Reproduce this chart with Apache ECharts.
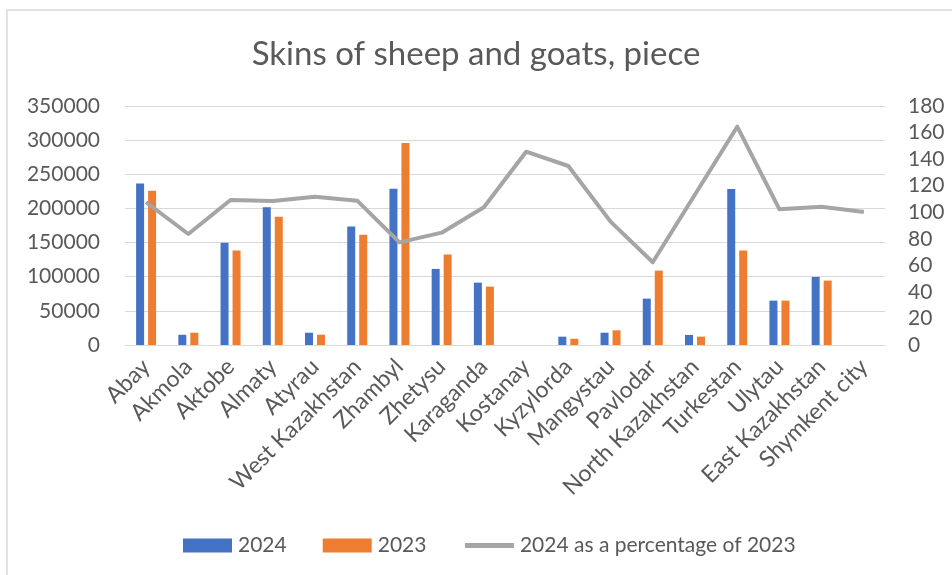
<!DOCTYPE html>
<html>
<head>
<meta charset="utf-8">
<script src="https://cdn.jsdelivr.net/npm/echarts@6/dist/echarts.min.js"></script>
<style>
  html, body { margin: 0; padding: 0; background: #fff; }
  #chart { width: 952px; height: 575px; }
</style>
</head>
<body>
<div id="chart"></div>
<script>
// Regions of Kazakhstan
const regions = ['Abay', 'Akmola', 'Aktobe', 'Almaty', 'Atyrau', 'West Kazakhstan', 'Zhambyl',
  'Zhetysu', 'Karaganda', 'Kostanay', 'Kyzylorda', 'Mangystau', 'Pavlodar', 'North Kazakhstan',
  'Turkestan', 'Ulytau', 'East Kazakhstan', 'Shymkent city'];

// Skins of sheep and goats, pieces
const skins2024 = [236500, 15000, 149600, 201900, 18000, 173500, 228700, 111400, 91300, null,
  12200, 18000, 67900, 14700, 228300, 65000, 99700, null];
const skins2023 = [225800, 18000, 138300, 187700, 15100, 161300, 295700, 132400, 85500, null,
  9200, 21500, 108900, 12200, 138300, 65000, 94300, null];

// 2024 as a percentage of 2023
const percent = [107.5, 83.6, 109.2, 108.4, 111.7, 108.7, 77.3, 84.6, 103.7, 145.6,
  134.8, 92.9, 62.3, 113.3, 164.4, 102.2, 104.1, 100.2];

const textColor = '#595959';
const font = 'Lato';

const chart = echarts.init(document.getElementById('chart'), null, { renderer: 'canvas' });
chart.setOption({
  backgroundColor: '#ffffff',
  animation: false,
  textStyle: { fontFamily: font, color: textColor },
  title: {
    text: 'Skins of sheep and goats, piece',
    left: 'center',
    top: 33,
    textStyle: { fontFamily: font, fontSize: 33, fontWeight: 'normal', color: textColor }
  },
  graphic: [{
    type: 'rect',
    shape: { x: 7, y: 10, width: 1000, height: 700 },
    style: { fill: 'none', stroke: '#d9d9d9', lineWidth: 1.5 },
    silent: true
  }],
  legend: {
    left: 178,
    top: 530,
    itemWidth: 49,
    itemHeight: 14,
    itemGap: 36,
    textStyle: { fontFamily: font, fontSize: 21, color: textColor, padding: [0, 0, 0, 1] },
    data: [
      { name: '2024', icon: 'rect' },
      { name: '2023', icon: 'rect' },
      { name: '2024 as a percentage of 2023', itemStyle: { opacity: 0 }, lineStyle: { width: 5 } }
    ]
  },
  grid: { left: 125, right: 67, top: 106, bottom: 230, containLabel: false },
  xAxis: {
    type: 'category',
    data: regions,
    axisLine: { show: true, lineStyle: { color: '#d9d9d9', width: 1 } },
    axisTick: { show: false },
    axisLabel: {
      interval: 0,
      rotate: 45,
      fontFamily: font,
      fontSize: 23,
      color: textColor,
      margin: 18
    }
  },
  yAxis: [{
    type: 'value',
    min: 0,
    max: 350000,
    interval: 50000,
    axisLine: { show: false },
    axisTick: { show: false },
    splitLine: { lineStyle: { color: '#d9d9d9', width: 1 } },
    axisLabel: { fontFamily: font, fontSize: 21, color: textColor, margin: 25, formatter: v => String(v) }
  }, {
    type: 'value',
    min: 0,
    max: 180,
    interval: 20,
    position: 'right',
    axisLine: { show: false },
    axisTick: { show: false },
    splitLine: { show: false },
    axisLabel: { fontFamily: font, fontSize: 21, color: textColor, margin: 23 }
  }],
  series: [{
    name: '2024',
    type: 'bar',
    data: skins2024,
    barWidth: 8,
    barGap: '50%',
    itemStyle: { color: '#4472c4' }
  }, {
    name: '2023',
    type: 'bar',
    data: skins2023,
    barWidth: 8,
    itemStyle: { color: '#ed7d31' }
  }, {
    name: '2024 as a percentage of 2023',
    type: 'line',
    yAxisIndex: 1,
    data: percent,
    symbol: 'none',
    lineStyle: { color: '#a5a5a5', width: 4, join: 'round' },
    itemStyle: { color: '#a5a5a5' },
    z: 5
  }]
});
</script>
</body>
</html>
